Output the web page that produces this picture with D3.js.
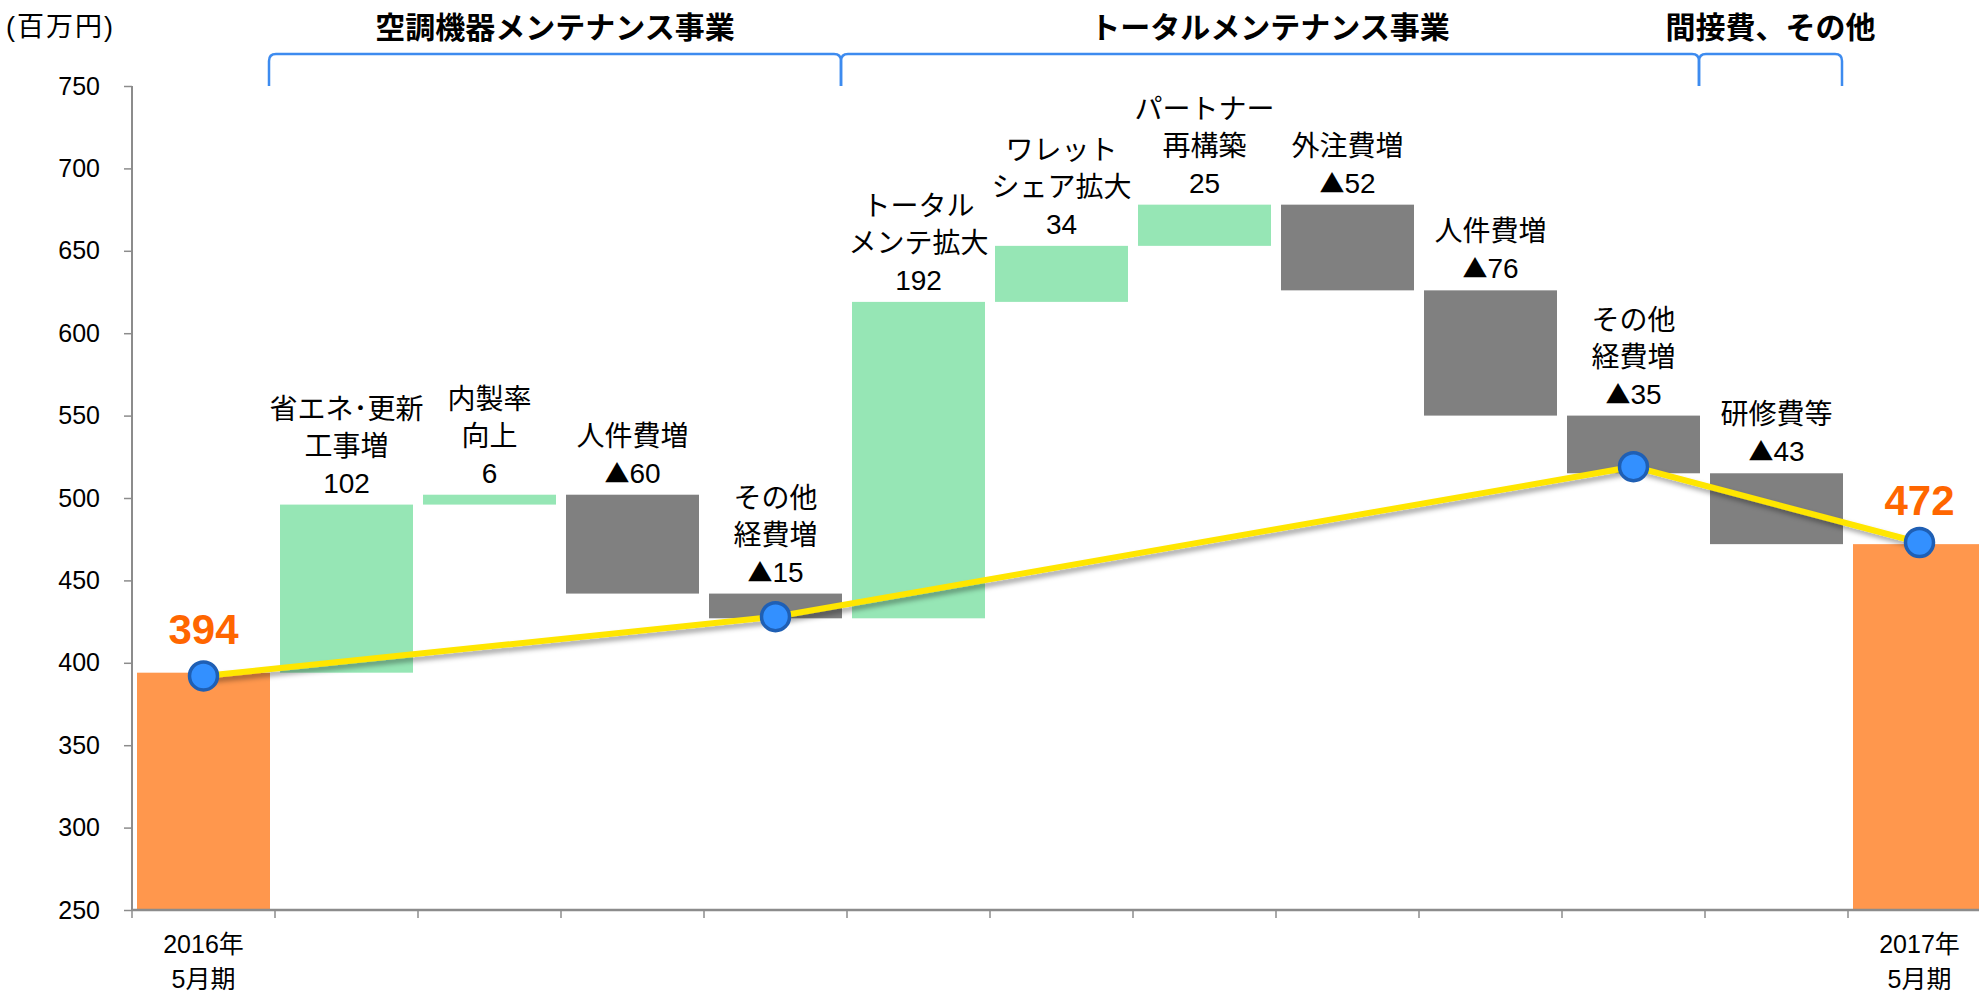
<!DOCTYPE html>
<html>
<head>
<meta charset="utf-8">
<script src="https://cdn.jsdelivr.net/npm/d3@7"></script>
<style>
  html, body { margin: 0; padding: 0; background: #fff; }
  svg { display: block; font-family: "Liberation Sans", "Noto Sans CJK JP", sans-serif; }
</style>
</head>
<body>
<div id="chart"></div>
<script>
// values (百万円)
const startValue = 394
const endValue = 472
const deltas = [102, 6, -60, -15, 192, 34, 25, -52, -76, -35, -43]
const deltaLabels = [
  ["省エネ･更新", "工事増"], ["内製率", "向上"], ["人件費増"], ["その他", "経費増"],
  ["トータル", "メンテ拡大"], ["ワレット", "シェア拡大"], ["パートナー", "再構築"], ["外注費増"],
  ["人件費増"], ["その他", "経費増"], ["研修費等"]
]
const endLabels = [["2016年", "5月期"], ["2017年", "5月期"]]
const trendIndex = [0, 4, 10, 12]
const trendValues = [392, 428, 519, 473]
const groupNames = ["空調機器メンテナンス事業", "トータルメンテナンス事業", "間接費、その他"]
const groupFrom = [1, 5, 11]
const groupTo = [4, 10, 11]
const yTicks = [250, 300, 350, 400, 450, 500, 550, 600, 650, 700, 750]

const W = 1979, H = 992
const MARGIN = {TOP: 86, LEFT: 132, BOTTOM: 82}
const PLOT_RIGHT = 1991

const svg = d3.select("#chart").append("svg")
  .attr("width", W).attr("height", H)

const defs = svg.append("defs")
defs.append("filter").attr("id", "shadow")
  .attr("x", "-10%").attr("y", "-50%").attr("width", "120%").attr("height", "200%")
  .append("feDropShadow")
  .attr("dx", 3).attr("dy", 4).attr("stdDeviation", 2.5)
  .attr("flood-color", "#000").attr("flood-opacity", 0.35)

// build waterfall rows
const n = deltas.length + 2
let rows = [{i: 0, lo: 250, hi: startValue, type: "total"}]
let run = startValue
deltas.forEach((d, k) => {
  const next = run + d
  rows.push({i: k + 1, lo: Math.min(run, next), hi: Math.max(run, next), type: d >= 0 ? "up" : "down", d: d, lines: deltaLabels[k]})
  run = next
})
rows.push({i: n - 1, lo: 250, hi: endValue, type: "total"})

const x = d3.scaleBand()
  .domain(d3.range(n))
  .range([MARGIN.LEFT, PLOT_RIGHT])
  .paddingInner(0.07)
  .paddingOuter(0.035)

const y = d3.scaleLinear()
  .domain([250, 750])
  .range([H - MARGIN.BOTTOM, MARGIN.TOP])

const colors = {total: "#FF974D", up: "#96E6B5", down: "#808080"}
const cx = i => x(i) + x.bandwidth() / 2

// bars
svg.append("g").selectAll("rect").data(rows).enter().append("rect")
  .attr("x", d => x(d.i))
  .attr("width", x.bandwidth())
  .attr("y", d => y(d.hi))
  .attr("height", d => y(d.lo) - y(d.hi))
  .attr("fill", d => colors[d.type])

// axes
const yAxis = svg.append("g")
  .attr("transform", `translate(${MARGIN.LEFT},0)`)
  .call(d3.axisLeft(y).tickValues(yTicks).tickSize(8).tickPadding(24))
yAxis.select(".domain").attr("stroke", "#8C8C8C").attr("stroke-width", 2)
  .attr("d", `M0,${y(750)}V${y(250)}`)
yAxis.selectAll(".tick line").attr("stroke", "#8C8C8C").attr("stroke-width", 1.5)
yAxis.selectAll(".tick text").attr("font-size", 25).attr("fill", "#000")
  .attr("font-family", "Liberation Sans, Arial, sans-serif")

const xAxis = svg.append("g")
xAxis.append("line")
  .attr("x1", MARGIN.LEFT).attr("x2", W)
  .attr("y1", y(250)).attr("y2", y(250))
  .attr("stroke", "#8C8C8C").attr("stroke-width", 2.5)
xAxis.selectAll("line.tk").data(d3.range(n)).enter().append("line")
  .attr("class", "tk")
  .attr("x1", d => x(d) - x.step() * x.paddingInner() / 2)
  .attr("x2", d => x(d) - x.step() * x.paddingInner() / 2)
  .attr("y1", y(250)).attr("y2", y(250) + 8)
  .attr("stroke", "#8C8C8C").attr("stroke-width", 1.5)

// end-bar axis labels
;[0, n - 1].forEach((idx, k) => {
  const t = svg.append("text").attr("text-anchor", "middle").attr("font-size", 25).attr("fill", "#000")
  endLabels[k].forEach((s, j) => {
    t.append("tspan").attr("x", cx(idx)).attr("y", y(250) + 43 + j * 35).text(s)
  })
})

// delta labels
const LINE = 37
rows.filter(d => d.type !== "total").forEach(d => {
  const names = d.lines
  const total = names.length + 1
  const base = y(d.hi) - 12
  const t = svg.append("text").attr("text-anchor", "middle").attr("font-size", 28).attr("fill", "#000")
  names.forEach((s, j) => {
    t.append("tspan").attr("x", cx(d.i)).attr("y", base - (total - 1 - j) * LINE).text(s)
  })
  const last = t.append("tspan").attr("x", cx(d.i)).attr("y", base)
  if (d.d < 0) {
    last.append("tspan").attr("font-family", "Noto Sans CJK JP").attr("font-size", 25).text("▲")
    last.append("tspan").text(Math.abs(d.d))
  } else {
    last.text(d.d)
  }
})

// trend line
const pts = trendIndex.map((idx, k) => [cx(idx), y(trendValues[k])])
svg.append("path")
  .attr("d", d3.line()(pts))
  .attr("fill", "none")
  .attr("stroke", "#FFE600")
  .attr("stroke-width", 6)
  .attr("filter", "url(#shadow)")
svg.append("g").selectAll("circle").data(pts).enter().append("circle")
  .attr("cx", d => d[0]).attr("cy", d => d[1])
  .attr("r", 14)
  .attr("fill", "#3390FF")
  .attr("stroke", "#1F5FB4")
  .attr("stroke-width", 3.5)

// start / end totals
;[[0, startValue], [n - 1, endValue]].forEach(([idx, v]) => {
  svg.append("text")
    .attr("x", cx(idx)).attr("y", y(v) - 29)
    .attr("text-anchor", "middle")
    .attr("font-size", 42).attr("font-weight", "bold")
    .attr("fill", "#FF6600")
    .text(v)
})

// group braces and titles
const edge = i => x(i) - x.step() * x.paddingInner() / 2 - 6
const braceTop = 54, braceBot = y(750), rr = 7
groupNames.forEach((name, k) => {
  const x0 = edge(groupFrom[k]), x1 = edge(groupTo[k] + 1)
  svg.append("path")
    .attr("d", `M${x0},${braceBot}L${x0},${braceTop + rr}Q${x0},${braceTop} ${x0 + rr},${braceTop}` +
      `L${x1 - rr},${braceTop}Q${x1},${braceTop} ${x1},${braceTop + rr}L${x1},${braceBot}`)
    .attr("fill", "none")
    .attr("stroke", "#3D8BEF")
    .attr("stroke-width", 2.5)
  svg.append("text")
    .attr("x", (x0 + x1) / 2).attr("y", 38)
    .attr("text-anchor", "middle")
    .attr("font-size", 30).attr("font-weight", "bold")
    .attr("fill", "#000")
    .text(name)
})

svg.append("text")
  .attr("x", 6).attr("y", 36)
  .attr("font-size", 27).attr("letter-spacing", 2).attr("fill", "#000")
  .text("(百万円)")
</script>
</body>
</html>
